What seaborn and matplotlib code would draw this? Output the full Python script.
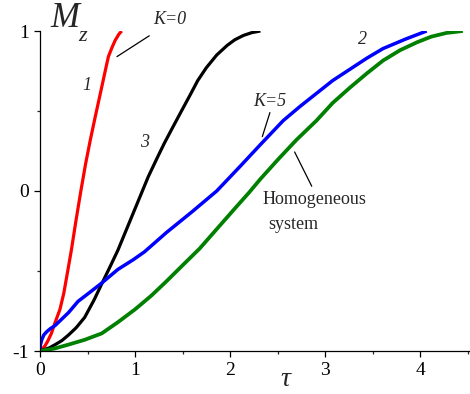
import os
import matplotlib
matplotlib.use("Agg")
import matplotlib.pyplot as plt
from matplotlib.font_manager import FontProperties
from matplotlib.ticker import MultipleLocator
import pandas as pd
import seaborn as sns

# Magnetization relaxation curves M_z(tau)
tau_k0 = [0, 0.02, 0.05, 0.08, 0.12, 0.16, 0.21, 0.25, 0.28, 0.33, 0.38, 0.43, 0.48, 0.53,
          0.58, 0.65, 0.69, 0.72, 0.76, 0.79, 0.83, 0.86]
mz_k0 = [-1, -0.99, -0.97, -0.94, -0.89, -0.82, -0.74, -0.64, -0.54, -0.37, -0.18, 0.0, 0.17,
         0.32, 0.46, 0.65, 0.76, 0.84, 0.90, 0.94, 0.98, 1.0]

tau_c3 = [0, 0.05, 0.1, 0.16, 0.23, 0.3, 0.38, 0.47, 0.57, 0.65, 0.74, 0.82, 0.9, 0.98, 1.06,
          1.14, 1.24, 1.31, 1.39, 1.48, 1.58, 1.66, 1.75, 1.86, 1.97, 2.05, 2.14, 2.23, 2.32]
mz_c3 = [-1, -0.99, -0.98, -0.96, -0.935, -0.9, -0.855, -0.79, -0.68, -0.58, -0.47, -0.37,
         -0.255, -0.14, -0.025, 0.09, 0.215, 0.30, 0.39, 0.49, 0.60, 0.69, 0.77, 0.85, 0.91,
         0.945, 0.972, 0.99, 1.0]

tau_k5 = [0, 0.005, 0.018, 0.04, 0.07, 0.11, 0.16, 0.23, 0.3, 0.4, 0.51, 0.65, 0.82, 0.98,
          1.1, 1.33, 1.6, 1.86, 2.1, 2.32, 2.56, 2.74, 2.91, 3.08, 3.26, 3.44, 3.61, 3.85, 4.07]
mz_k5 = [-1, -0.96, -0.93, -0.9, -0.88, -0.86, -0.84, -0.80, -0.76, -0.69, -0.64, -0.575,
         -0.49, -0.43, -0.38, -0.26, -0.13, 0.0, 0.15, 0.29, 0.44, 0.53, 0.61, 0.69, 0.76,
         0.83, 0.89, 0.95, 1.0]

tau_hom = [0, 0.15, 0.3, 0.47, 0.65, 0.82, 1.0, 1.17, 1.33, 1.5, 1.68, 1.85, 2.05, 2.2, 2.32,
           2.51, 2.7, 2.91, 3.08, 3.26, 3.44, 3.61, 3.79, 3.97, 4.12, 4.28, 4.45]
mz_hom = [-1, -0.985, -0.96, -0.93, -0.89, -0.82, -0.74, -0.655, -0.565, -0.465, -0.36,
          -0.245, -0.11, -0.01, 0.075, 0.2, 0.32, 0.44, 0.55, 0.645, 0.735, 0.815, 0.88,
          0.93, 0.965, 0.988, 1.0]

x_ticks = [0, 1, 2, 3, 4]
y_ticks = [-1, 0, 1]
y_ticklabels = ["-1", "0", "1"]

sns.set_style("ticks")
plt.rcParams["font.family"] = ["Liberation Serif", "DejaVu Serif"]
plt.rcParams["axes.unicode_minus"] = False

# Times-like serif faces, loaded straight from the font files when present
LIB = "/usr/share/fonts/truetype/liberation"


def serif(size, italic=False):
    path = os.path.join(LIB, "LiberationSerif-Italic.ttf" if italic
                        else "LiberationSerif-Regular.ttf")
    if os.path.exists(path):
        return FontProperties(fname=path, size=size)
    return FontProperties(family=["Liberation Serif", "DejaVu Serif"],
                          style="italic" if italic else "normal", size=size)


W, H = 470, 394
fig = plt.figure(figsize=(W / 100, H / 100), dpi=100)
ax = fig.add_axes([40 / W, 1 - 351 / H, 430 / W, 320 / H])

series = [
    (tau_k0, mz_k0, "#ff0000", 2.3),
    (tau_c3, mz_c3, "#000000", 2.3),
    (tau_k5, mz_k5, "#0000ff", 2.5),
    (tau_hom, mz_hom, "#008000", 2.7),
]
for t, m, c, lw in series:
    df = pd.DataFrame({"tau": t, "Mz": m})
    sns.lineplot(data=df, x="tau", y="Mz", ax=ax, color=c, lw=lw,
                 sort=False, estimator=None, solid_capstyle="butt",
                 solid_joinstyle="round")

ax.set_xlim(0, 4.526)
ax.set_ylim(-1, 1)
ax.set_xticks(x_ticks)
ax.set_xticklabels([str(v) for v in x_ticks], fontproperties=serif(14))
ax.set_yticks(y_ticks)
ax.set_yticklabels(y_ticklabels, fontproperties=serif(14))
ax.xaxis.set_minor_locator(MultipleLocator(0.5))
ax.yaxis.set_minor_locator(MultipleLocator(0.5))
ax.tick_params(which="major", direction="out", length=4, width=0.9, pad=4,
               colors="black")
ax.tick_params(which="minor", direction="out", length=2.2, width=0.9)
for s in ["top", "right"]:
    ax.spines[s].set_visible(False)
for s in ["left", "bottom"]:
    ax.spines[s].set_linewidth(0.9)
    ax.spines[s].set_color("black")
ax.set_xlabel("")
ax.set_ylabel("")

# axis titles
ax.text(0.105, 1.08, "M", fontproperties=serif(25, True),
        ha="left", va="center", clip_on=False)
ax.text(0.40, 0.965, "z", fontproperties=serif(16, True),
        ha="left", va="center", clip_on=False)
ax.text(245 / 430, -29 / 320, "τ", transform=ax.transAxes,
        fontproperties=serif(20, True), ha="center", va="center")

# curve labels and leader lines
ax.text(1.19, 1.075, "K=0", fontproperties=serif(13, True), ha="left", va="center",
        clip_on=False)
ax.plot([0.81, 1.15], [0.84, 0.97], color="black", lw=0.9)
ax.text(2.42, 0.5625, "K=5", fontproperties=serif(13, True), ha="center", va="center")
ax.plot([2.34, 2.42], [0.34, 0.49], color="black", lw=0.9)
ax.text(2.884, -0.056, "Homogeneous", fontproperties=serif(13), ha="center", va="center")
ax.text(2.67, -0.2125, "system", fontproperties=serif(13), ha="center", va="center")
ax.plot([2.68, 2.86], [0.244, 0.03], color="black", lw=0.9)
ax.text(0.495, 0.6625, "1", fontproperties=serif(13, True), ha="center", va="center")
ax.text(1.105, 0.30, "3", fontproperties=serif(13, True), ha="center", va="center")
ax.text(3.39, 0.95, "2", fontproperties=serif(13, True), ha="center", va="center")

fig.savefig("out.png", dpi=100)
